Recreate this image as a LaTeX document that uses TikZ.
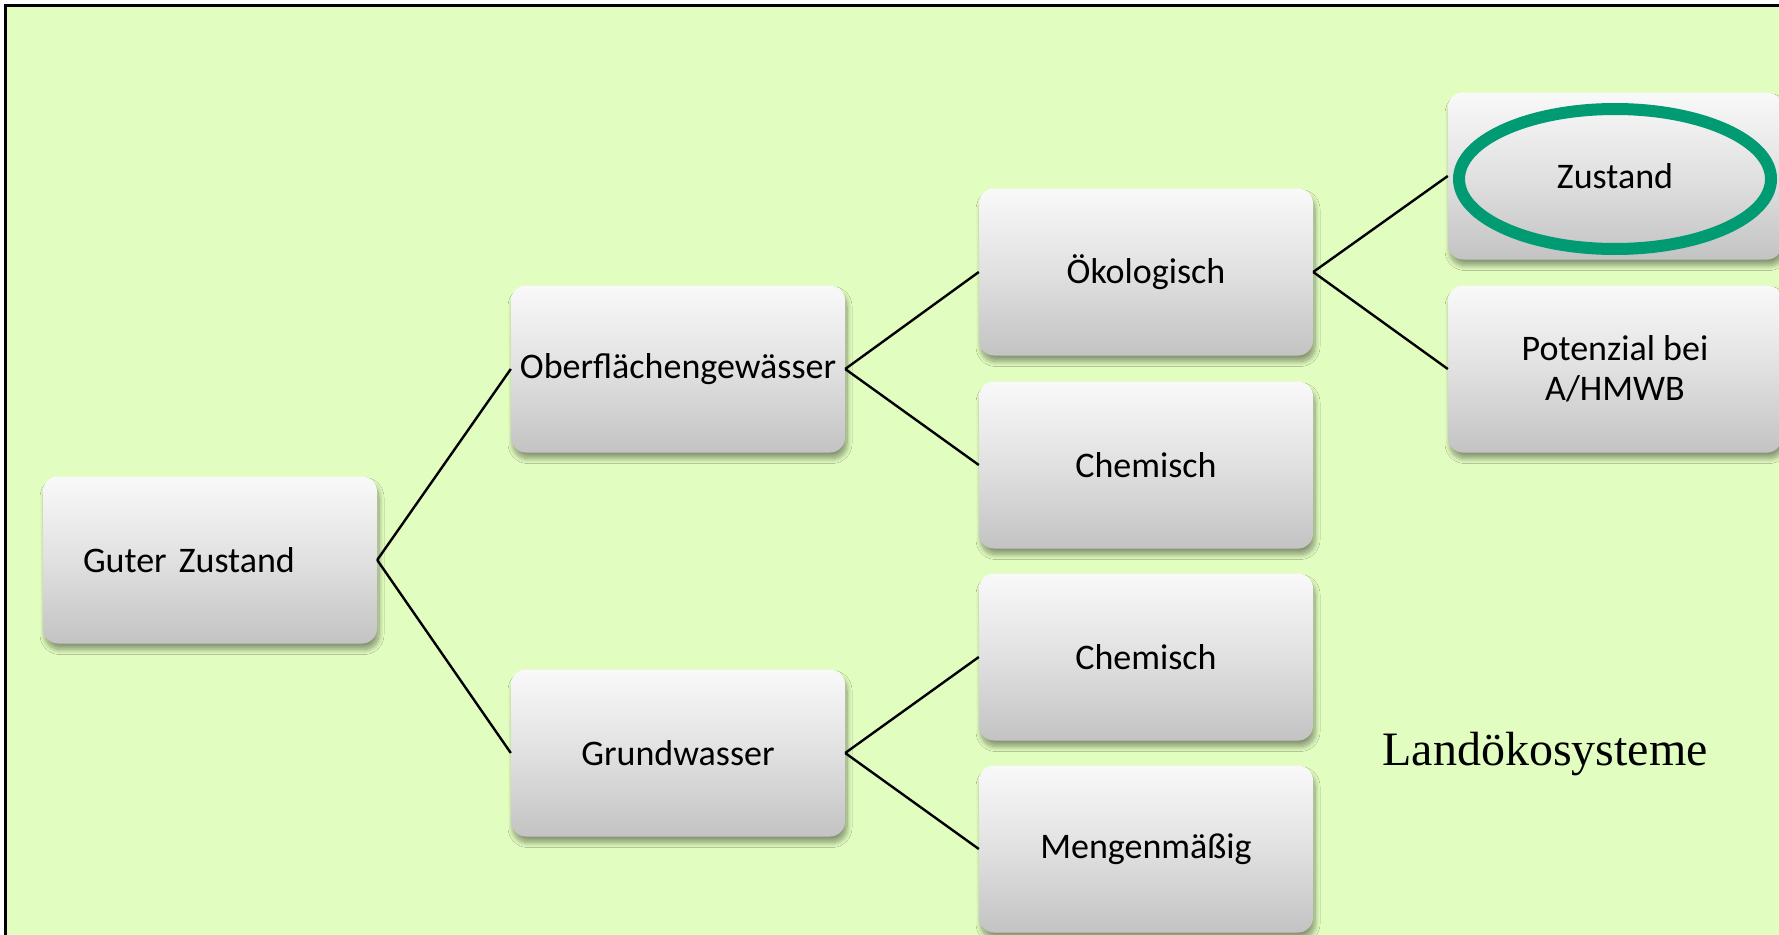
\documentclass[tikz,border=0pt]{standalone}
\usepackage{fontspec}
\setmainfont{Carlito}
\newfontfamily\serifface{Liberation Serif}
\usetikzlibrary{shadows.blur}
\definecolor{bggreen}{HTML}{E2FDC0}
\definecolor{boxtop}{HTML}{F9F9F9}
\definecolor{boxbot}{HTML}{C3C3C3}
\definecolor{ringgreen}{HTML}{009B72}
\tikzset{
  stepbox/.style={rectangle, rounded corners=15pt, minimum width=334pt, minimum height=167pt,
    inner sep=0pt, top color=boxtop, bottom color=boxbot, middle color=boxtop!55!boxbot,
    font=\fontsize{36}{40}\selectfont, text=black, align=center,
    blur shadow={shadow xshift=2pt, shadow yshift=-6pt, shadow blur steps=10, shadow opacity=40, shadow blur radius=5pt}},
  link/.style={draw=black, line width=2.4pt},
}
\begin{document}
\begin{tikzpicture}[x=1pt,y=-1pt]
\useasboundingbox (0,0) rectangle (1779,934);
\fill[white] (0,0) rectangle (1779,934);
\draw[fill=bggreen, line width=2.5pt] (5.5,5.5) rectangle (1800,960);
% nodes
\node[stepbox, text width=254pt, inner xsep=40pt, align=left] (guter) at (210,560) {Guter Zustand};
\node[stepbox] (ober) at (678,369) {Oberflächengewässer};
\node[stepbox] (grund) at (678,753) {Grundwasser};
\node[stepbox] (oeko) at (1146,272) {Ökologisch};
\node[stepbox] (chem1) at (1146,465) {Chemisch};
\node[stepbox] (chem2) at (1146,657) {Chemisch};
\node[stepbox] (menge) at (1146,849) {Mengenmäßig};
\node[stepbox] (zust) at (1615,176) {Zustand};
\node[stepbox] (pot) at (1615,369) {Potenzial bei\\A/HMWB};
\node[font=\serifface\fontsize{48}{52}\selectfont, anchor=base] (land) at (1545,765) {Landökosysteme};
% ring
\draw[ringgreen, line width=12pt] ([yshift=-3pt]zust.center) ellipse [x radius=156, y radius=70];
% connectors
\draw[link] (guter.east) -- (ober.west);
\draw[link] (guter.east) -- (grund.west);
\draw[link] (ober.east) -- (oeko.west);
\draw[link] (ober.east) -- (chem1.west);
\draw[link] (grund.east) -- (chem2.west);
\draw[link] (grund.east) -- (menge.west);
\draw[link] (oeko.east) -- (zust.west);
\draw[link] (oeko.east) -- (pot.west);
\end{tikzpicture}
\end{document}
